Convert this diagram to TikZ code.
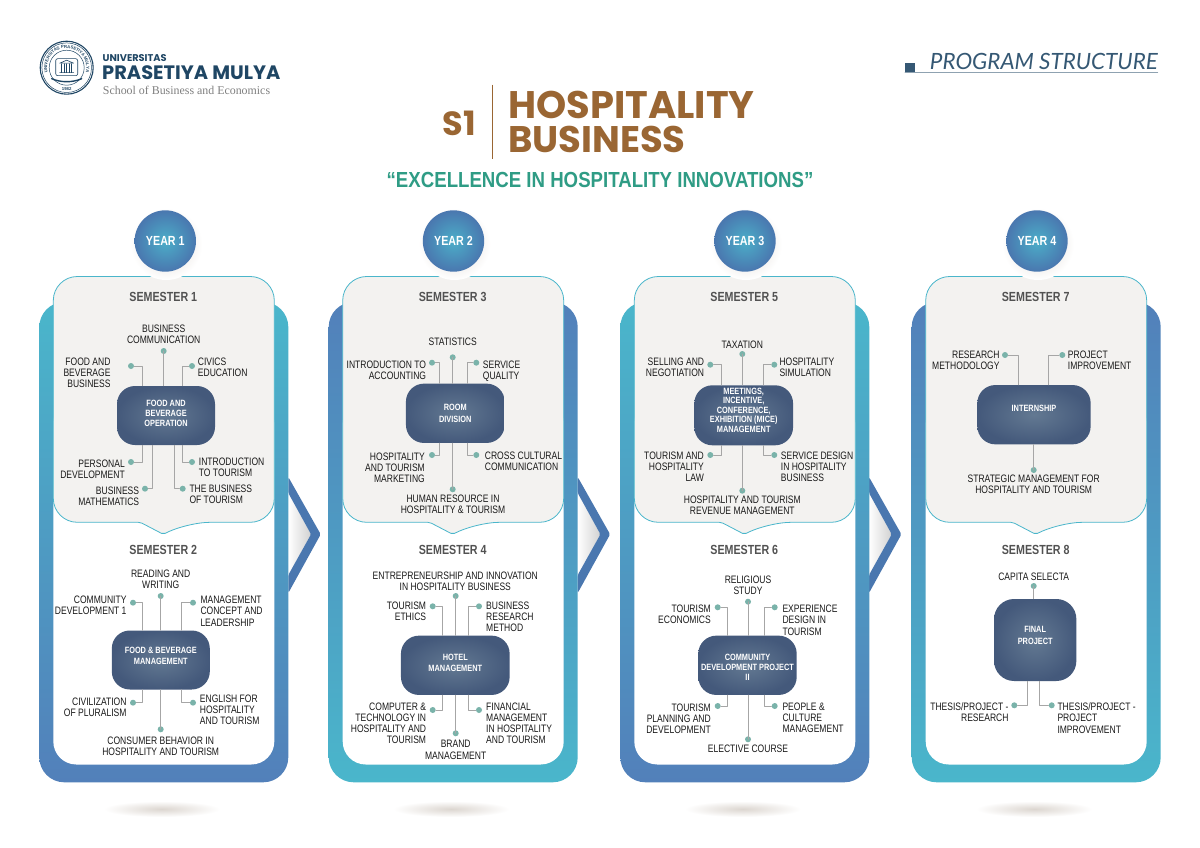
\documentclass[tikz,border=0pt]{standalone}
\usepackage{fontspec}
\usetikzlibrary{calc,decorations.text}
\setmainfont{Liberation Sans}
\newfontfamily\subjfont{Liberation Sans}[FakeStretch=0.79]
\newfontfamily\corefont{Liberation Sans}[FakeStretch=0.81]
\newfontfamily\headfont{Liberation Sans}[FakeStretch=0.81]
\newfontfamily\tagfont{Liberation Sans}[FakeStretch=0.855]
\newfontfamily\brandfont{Poppins}
\newfontfamily\pagefont{Lato}
\newfontfamily\schoolfont{Liberation Serif}
\definecolor{panelteal}{HTML}{4AB6CB}
\definecolor{panelblue}{HTML}{5280BA}
\definecolor{chevblue}{HTML}{4A77AF}
\definecolor{cardgrey}{HTML}{F3F2F0}
\definecolor{coreedge}{HTML}{44597B}
\definecolor{coremid}{HTML}{637992}
\definecolor{dotteal}{HTML}{7AB3AA}
\definecolor{brown}{HTML}{9A6633}
\definecolor{tagteal}{HTML}{2F9C85}
\definecolor{navy}{HTML}{1F4664}
\definecolor{softshade}{HTML}{DCD6D0}
\tikzset{
	panel/.style={rounded corners=25pt},
	card/.style={fill=cardgrey,draw=panelteal,line width=0.8pt},
	core/.style={rounded corners=18pt,inner color=coremid,outer color=coreedge,inner sep=0pt,
		align=center,text=white,font=\fontsize{9.1}{10}\corefont\bfseries},
	wire/.style={draw=black!35,line width=0.7pt},
	dotnode/.style={circle,fill=dotteal,minimum size=6pt,inner sep=0pt},
	leftlab/.style={anchor=north east,align=right},
	rightlab/.style={anchor=north west,align=left},
	midlab/.style={anchor=north,align=center},
	topiclab/.style={inner sep=0pt,text=black!90,font=\fontsize{10.8}{11.2}\subjfont},
	semtitle/.style={text=black!68,font=\fontsize{13.2}{14}\headfont\bfseries},
	yearball/.style={circle,minimum size=61.4pt,inner sep=0pt,inner color=panelteal!85!panelblue,outer color=chevblue,
		text=white,font=\fontsize{13.2}{14}\headfont\bfseries},
}
% extra room under the last line of a core, lifts its text
\newcommand{\padbelow}[2]{\raisebox{0pt}[\height][#1]{#2}}
% dot, wire and label of one subject: name, dot, wire x, core anchor, label style, label at, text
\newcommand{\topic}[7]{
	\node[dotnode] (#1) at (#2) {};
	\draw[wire] (#1) -| (#4 -| #3,0);
	\node[topiclab,#5] (#1t) at (#6) {#7};
}
\begin{document}
\begin{tikzpicture}[x=1pt,y=-1pt,line join=round,line cap=round]
	\useasboundingbox (0,0) rectangle (1200,848);
	\fill[white] (0,0) rectangle (1200,848);
	% logo
	\begin{scope}[shift={(66.7,67.7)},y=1pt,navy]
		\draw[line width=1.1pt] (0,0) circle (26.5);
		\draw[line width=0.5pt] (0,0) circle (24.8);
		\draw[line width=0.5pt] (0,0) circle (17.5);
		\path[decorate,decoration={text along path,text align=center,text color=navy,
			text={|\fontsize{4.3}{4.3}\selectfont\bfseries|UNIVERSITAS PRASETIYA MULYA}}]
			(205:19.6) arc[start angle=205,end angle=-25,radius=19.6];
		\node[inner sep=0pt,font=\fontsize{4.3}{4.3}\selectfont\bfseries] (sealyear) at (0,-21.6) {1982};
		\draw[line width=0.6pt,rounded corners=2pt] (-11,9) -- (11,9) -- (11,-8) -- (-11,-8) -- cycle;
		\draw[line width=0.6pt] (-7,4.5) -- (0,7.5) -- (7,4.5) -- cycle (-7,-5) -- (7,-5);
		\foreach \c in {-5,-2.5,0,2.5,5}
			\draw[line width=0.6pt] (\c,4) -- (\c,-5);
		\draw[line width=1.4pt] (-15,-11) .. controls (-6,-15) and (6,-15) .. (15,-11);
	\end{scope}
	\node[anchor=base west,inner sep=0pt,text=navy,font=\fontsize{9.8}{10}\brandfont\bfseries] (uni) at (102.5,62) {UNIVERSITAS};
	\node[anchor=base west,inner sep=0pt,text=navy,font=\fontsize{19.4}{20}\brandfont\bfseries] (mulya) at (102,80) {PRASETIYA MULYA};
	\node[anchor=base west,inner sep=0pt,text=black!50,font=\fontsize{11.9}{12}\schoolfont] (school) at (102.7,94.5) {School of Business and Economics};
	% page title
	\fill[navy!90] (905,63.3) rectangle (914.7,73) coordinate (pagesq);
	\draw[navy!50,line width=1pt] (905,72.7) -- (1157.5,72.7);
	\node[anchor=south east,inner sep=0pt,text=navy!90,font=\fontsize{22.4}{24}\pagefont\itshape] (pagetitle) at (1158,69.5) {PROGRAM STRUCTURE};
	% heading
	\node[anchor=base,inner sep=0pt,text=brown,font=\fontsize{33.5}{34}\brandfont\bfseries] (s1) at (459.5,136) {S1};
	\draw[brown,line width=1.4pt,line cap=butt] (492.7,84.7) -- (492.7,159.3);
	\node[anchor=base west,inner sep=0pt,text=brown,font=\fontsize{38.4}{39}\brandfont\bfseries] (hosp) at (508,119) {HOSPITALITY};
	\node[anchor=base west,inner sep=0pt,text=brown,font=\fontsize{37}{38}\brandfont\bfseries] (bus) at (508,152.5) {BUSINESS};
	\node[anchor=base,inner sep=0pt,text=tagteal,font=\fontsize{21.8}{24}\tagfont\bfseries] (motto) at (600,187.3) {“EXCELLENCE IN HOSPITALITY INNOVATIONS”};
	% arrows between the years
	\foreach \x in {288.3,577.7,869}{
		\shade[left color=white,right color=black!18] (\x,493) -- (\x+22.7,534.3) -- (\x,575) -- cycle;
		\fill[chevblue,rounded corners=1.5pt] (\x,477) -- (\x+32.4,534.3) -- (\x,593) -- (\x,575) -- (\x+22.7,534.3) -- (\x,493) -- cycle;
	}
	% panels, cards, year balls
	\foreach \x/\y/\topc/\botc/\a/\b/\n in {39.3/165.3/panelteal/panelblue/1/2/1,328.7/453.5/panelblue/panelteal/3/4/2,620.3/745/panelteal/panelblue/5/6/3,911.7/1037/panelblue/panelteal/7/8/4}{
		\shade[panel,top color=\topc,bottom color=\botc] (\x,302) rectangle (\x+249,782.3);
		\fill[white,rounded corners=23pt] (\x+14,400) rectangle (\x+235,764.5);
		\draw[card,rounded corners=24pt] (\x+124,276.5) -- (\x+235,276.5) -- (\x+235,522.3) -- (\x+147,522.3) [rounded corners=2pt] -- (\x+124,534.3) -- (\x+101,522.3) [rounded corners=24pt] -- (\x+14,522.3) -- (\x+14,276.5) -- cycle;
		\shade[inner color=softshade,outer color=white] (\y+1,244) circle (36);
		\node[yearball] (year\n) at (\y,241) {YEAR \n};
		\node[semtitle] (sem\a) at (\x+124,297.3) {SEMESTER \a};
		\node[semtitle] (sem\b) at (\x+124,550) {SEMESTER \b};
		\shade[inner color=softshade,outer color=white] (\x+122.5,809) ellipse (58 and 8);
	}
	% semester 1
	\node[core,minimum width=98pt,minimum height=59pt] (core1) at (166,415.5) {FOOD AND\\BEVERAGE\\\padbelow{4pt}{OPERATION}};
	\topic{bizcomm}{163.7,351}{163.7}{core1.north}{midlab}{163.7,325}{BUSINESS\\COMMUNICATION}
	\topic{fbbiz}{131,366}{142.7}{core1.north}{leftlab}{110.7,357.7}{FOOD AND\\BEVERAGE\\BUSINESS}
	\topic{civics}{192,366}{182.3}{core1.north}{rightlab}{197.7,357.3}{CIVICS\\EDUCATION}
	\topic{persdev}{131,462}{142.7}{core1.south}{leftlab}{125,459.3}{PERSONAL\\DEVELOPMENT}
	\topic{bizmath}{145,488.7}{152.7}{core1.south}{leftlab}{139.3,486.7}{BUSINESS\\MATHEMATICS}
	\topic{introtour}{192,462}{182.3}{core1.south}{rightlab}{198.7,457.3}{INTRODUCTION\\TO TOURISM}
	\topic{biztour}{182.7,488.7}{174.3}{core1.south}{rightlab}{189.3,485}{THE BUSINESS\\OF TOURISM}
	% semester 2
	\node[core,minimum width=98pt,minimum height=59pt,font=\fontsize{9.1}{11}\corefont\bfseries] (core2) at (160.8,660) {FOOD \& BEVERAGE\\\padbelow{9pt}{MANAGEMENT}};
	\topic{readwrite}{160.7,596}{160.7}{core2.north}{midlab}{160.7,570}{READING AND\\WRITING}
	\topic{commdev}{133,602.7}{142.7}{core2.north}{leftlab}{126.7,596}{COMMUNITY\\DEVELOPMENT 1}
	\topic{mgmtcon}{193,602.7}{181.3}{core2.north}{rightlab}{200.3,596}{MANAGEMENT\\CONCEPT AND\\LEADERSHIP}
	\topic{civil}{133,702.7}{142.7}{core2.south}{leftlab}{126.7,697.3}{CIVILIZATION\\OF PLURALISM}
	\topic{english}{193,702.7}{181.3}{core2.south}{rightlab}{199.7,694.3}{ENGLISH FOR\\HOSPITALITY\\AND TOURISM}
	\topic{consumer}{160.7,729.3}{160.7}{core2.south}{midlab}{160.7,736.3}{CONSUMER BEHAVIOR IN\\HOSPITALITY AND TOURISM}
	% semester 3
	\node[core,minimum width=98.7pt,minimum height=59.3pt,font=\fontsize{9.1}{11.4}\corefont\bfseries] (core3) at (455.3,413.3) {ROOM\\DIVISION};
	\topic{stats}{452.7,357.3}{452.7}{core3.north}{midlab}{452.7,337.3}{STATISTICS}
	\topic{account}{432,362.7}{439.7}{core3.north}{leftlab}{426.3,360.3}{INTRODUCTION TO\\ACCOUNTING}
	\topic{quality}{476.3,362.7}{467.3}{core3.north}{rightlab}{482.7,360.3}{SERVICE\\QUALITY}
	\topic{market}{432,455}{439.7}{core3.south}{leftlab}{425,452.3}{HOSPITALITY\\AND TOURISM\\MARKETING}
	\topic{cross}{476.3,455}{467.3}{core3.south}{rightlab}{484.7,451.7}{CROSS CULTURAL\\COMMUNICATION}
	\topic{human}{452.7,489.3}{452.7}{core3.south}{midlab}{453,494.7}{HUMAN RESOURCE IN\\HOSPITALITY \& TOURISM}
	% semester 4
	\node[core,minimum width=108.7pt,minimum height=59.3pt,font=\fontsize{9.1}{11}\corefont\bfseries] (core4) at (455.3,665.3) {HOTEL\\\padbelow{4pt}{MANAGEMENT}};
	\topic{entre}{455.7,596}{455.7}{core4.north}{midlab}{455.3,571.3}{ENTREPRENEURSHIP AND INNOVATION\\IN HOSPITALITY BUSINESS}
	\topic{ethics}{432.7,606.3}{442.7}{core4.north}{leftlab}{426.3,601.7}{TOURISM\\ETHICS}
	\topic{resmeth}{479,606.3}{468.3}{core4.north}{rightlab}{486,601.7}{BUSINESS\\RESEARCH\\METHOD}
	\topic{comptech}{432.7,710}{442.7}{core4.south}{leftlab}{426.3,702.3}{COMPUTER \&\\TECHNOLOGY IN\\HOSPITALITY AND\\TOURISM}
	\topic{finmgmt}{479,710}{468.3}{core4.south}{rightlab}{486,702.3}{FINANCIAL\\MANAGEMENT\\IN HOSPITALITY\\AND TOURISM}
	\topic{brand}{455.7,733.3}{455.7}{core4.south}{midlab}{455.7,740.3}{BRAND\\MANAGEMENT}
	% semester 5
	\node[core,minimum width=98.7pt,minimum height=60pt,font=\fontsize{9.1}{9.5}\corefont\bfseries] (core5) at (743.7,415.3) {MEETINGS,\\INCENTIVE,\\CONFERENCE,\\EXHIBITION (MICE)\\\padbelow{10pt}{MANAGEMENT}};
	\topic{tax}{742.3,354}{742.3}{core5.north}{midlab}{742.3,340.3}{TAXATION}
	\topic{selling}{710.3,364.7}{721.7}{core5.north}{leftlab}{704.3,357.3}{SELLING AND\\NEGOTIATION}
	\topic{hospsim}{774.3,364.7}{763.3}{core5.north}{rightlab}{779.3,357.3}{HOSPITALITY\\SIMULATION}
	\topic{hosplaw}{710.3,455}{721.7}{core5.south}{leftlab}{704,451.7}{TOURISM AND\\HOSPITALITY\\LAW}
	\topic{servdes}{774.3,455}{763.3}{core5.south}{rightlab}{780.7,451.3}{SERVICE DESIGN\\IN HOSPITALITY\\BUSINESS}
	\topic{revenue}{742.3,490.7}{742.3}{core5.south}{midlab}{742.3,496}{HOSPITALITY AND TOURISM\\REVENUE MANAGEMENT}
	% semester 6
	\node[core,minimum width=98.4pt,minimum height=59.3pt] (core6) at (747.5,665.3) {\rule{0pt}{10pt}COMMUNITY\\DEVELOPMENT PROJECT\\II};
	\topic{religion}{748,601.7}{748}{core6.north}{midlab}{748,576}{RELIGIOUS\\STUDY}
	\topic{econ}{717.7,607.3}{727.3}{core6.north}{leftlab}{711,605}{TOURISM\\ECONOMICS}
	\topic{experience}{774.7,607.3}{764.3}{core6.north}{rightlab}{782.3,605}{EXPERIENCE\\DESIGN IN\\TOURISM}
	\topic{planning}{717.7,706}{727.3}{core6.south}{leftlab}{711,703.3}{TOURISM\\PLANNING AND\\DEVELOPMENT}
	\topic{people}{774.7,706}{764.3}{core6.south}{rightlab}{782.3,702.7}{PEOPLE \&\\CULTURE\\MANAGEMENT}
	\topic{elective}{748,739.3}{748}{core6.south}{midlab}{748,745}{ELECTIVE COURSE}
	% semester 7
	\node[core,minimum width=113.3pt,minimum height=59.3pt] (core7) at (1034,414.7) {\padbelow{13pt}{INTERNSHIP}};
	\topic{method}{1005,355}{1018.7}{core7.north}{leftlab}{999.7,351}{RESEARCH\\METHODOLOGY}
	\topic{projimp}{1062.3,355}{1048.3}{core7.north}{rightlab}{1067.7,351}{PROJECT\\IMPROVEMENT}
	\topic{strategy}{1033.7,470}{1033.7}{core7.south}{midlab}{1033.7,475}{STRATEGIC MANAGEMENT FOR\\HOSPITALITY AND TOURISM}
	% semester 8
	\node[core,rounded corners=20pt,minimum width=82.3pt,minimum height=82pt,font=\fontsize{9.1}{12}\corefont\bfseries] (core8) at (1035.2,640) {FINAL\\\padbelow{9pt}{PROJECT}};
	\topic{capita}{1033.7,586}{1033.7}{core8.north}{midlab}{1033.7,572.3}{CAPITA SELECTA}
	\topic{thesisres}{1014.3,705.3}{1027.3}{core8.south}{leftlab}{1008.7,702.7}{THESIS/PROJECT -\\RESEARCH}
	\topic{thesisimp}{1051.7,705.3}{1039.7}{core8.south}{rightlab}{1057.3,702.7}{THESIS/PROJECT -\\PROJECT\\IMPROVEMENT}
\end{tikzpicture}
\end{document}
